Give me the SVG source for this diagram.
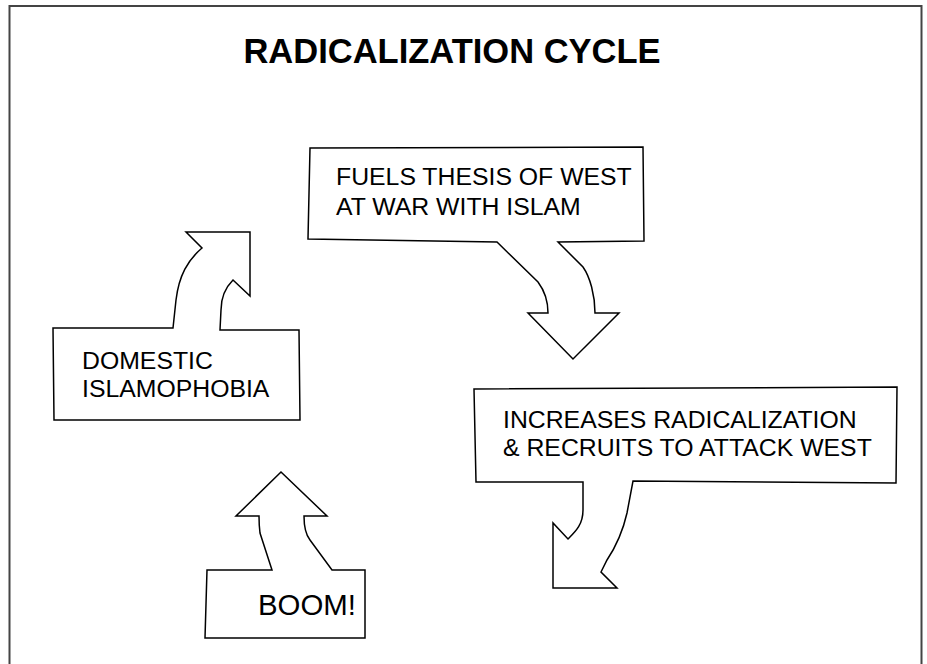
<svg xmlns="http://www.w3.org/2000/svg" width="927" height="664" viewBox="0 0 927 664">
<style>
.shape{fill:#fff;stroke:#000;stroke-width:1.5;stroke-linejoin:miter}
.lbl{font-family:"Liberation Sans",Arial,sans-serif;font-size:24.8px;fill:#000}
.title{font-family:"Liberation Sans",Arial,sans-serif;font-size:34.5px;font-weight:bold;fill:#000}
</style>
<rect width="927" height="664" fill="#fff"/>
<path d="M9.5,670 L9.5,6 L921.5,6 L921.5,670" fill="none" stroke="#444" stroke-width="2"/>
<text class="title" x="452" y="63" text-anchor="middle">RADICALIZATION CYCLE</text>
<g id="fuels">
<path class="shape" d="M310,148 L643,147 L644,241 L558,242 L583,267 C590,277 595,295 595,313 L619,313 L573,359 L528,313 L548,313 C548,300 544,290 538,282 L497,242 L308,239 Z"/>
<text class="lbl" x="336" y="185">FUELS THESIS OF WEST</text>
<text class="lbl" x="336" y="215">AT WAR WITH ISLAM</text>
</g>
<g id="increases">
<path class="shape" d="M474,389 L897,387 L896,483 L633,481 L627,513 C622,535 615,548 607,560 L601,572 L617,588 L553,588 L553,523 L568,539 C575,532 583,525 583,510 L583,482 L476,482 Z"/>
<text class="lbl" x="503" y="428">INCREASES RADICALIZATION</text>
<text class="lbl" x="503" y="456">&amp; RECRUITS TO ATTACK WEST</text>
</g>
<g id="domestic">
<path class="shape" d="M53,328 L173,328 L176,300 C179,275 188,260 202,248 L186,232 L250,232 L250,296 L233,280 C225,288 221,297 221,310 L220,330 L299,330 L300,420 L54,420 Z"/>
<text class="lbl" x="82" y="369">DOMESTIC</text>
<text class="lbl" x="82" y="397">ISLAMOPHOBIA</text>
</g>
<g id="boom">
<path class="shape" d="M207,570 L272,570 L260,533 C259,525 259,520 259,516 L236,516 L281,472 L327,516 L304,516 C304,527 306,535 310,540 L332,570 L365,570 L365,638 L205,638 Z"/>
<text class="lbl" x="258" y="615" style="font-size:29.4px">BOOM!</text>
</g>
<g id="connectors"></g>
</svg>
